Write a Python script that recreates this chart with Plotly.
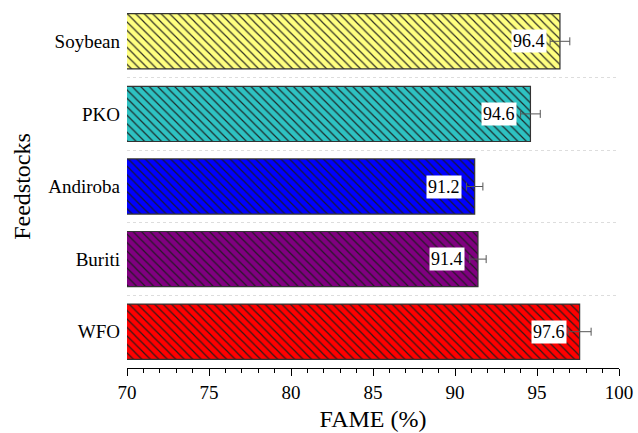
import plotly.graph_objects as go

# FAME yield by feedstock (bottom to top order on the chart)
feedstocks = ["WFO", "Buriti", "Andiroba", "PKO", "Soybean"]
fame = [97.6, 91.4, 91.2, 94.6, 96.4]
fame_err = [0.7, 0.5, 0.5, 0.6, 0.6]
bar_colors = ["#FF0000", "#800080", "#0000FF", "#2EC2C2", "#FFFF80"]

x_ticks = [70, 75, 80, 85, 90, 95, 100]

FONT = "Liberation Serif, Times New Roman, serif"

fig = go.Figure()

# one trace per feedstock so each bar gets its own hatched fill
for name, val, err, col in zip(feedstocks, fame, fame_err, bar_colors):
    fig.add_trace(go.Bar(
        y=[name],
        x=[val],
        base=0,
        orientation="h",
        width=0.76,
        marker=dict(
            color=col,
            line=dict(color="#333333", width=1.2),
            pattern=dict(shape="\\", size=6, solidity=0.2, fgcolor="#1A1A1A",
                         bgcolor=col, fgopacity=0.9, fillmode="replace"),
        ),
        error_x=dict(type="data", array=[err], visible=True,
                     color="#555555", thickness=1, width=4),
        showlegend=False,
    ))

# value labels with white boxes near the bar ends
for name, val in zip(feedstocks, fame):
    fig.add_annotation(
        x=val, y=name, xref="x", yref="y",
        text=f"{val:.1f}", showarrow=False,
        xanchor="right", xshift=-13,
        bgcolor="white", borderpad=1,
        font=dict(family=FONT, size=18, color="black"),
    )

fig.update_layout(
    width=638, height=433,
    barmode="overlay",
    margin=dict(l=127, r=15, t=5, b=65),
    plot_bgcolor="white", paper_bgcolor="white",
    font=dict(family=FONT, color="black"),
    xaxis=dict(
        range=[70, 100],
        tickvals=x_ticks,
        ticks="outside", ticklen=7, tickwidth=1.3, tickcolor="black",
        showline=True, linecolor="black", linewidth=1.3,
        minor=dict(dtick=1, ticks="outside", ticklen=4, tickwidth=1.1, tickcolor="black", showgrid=False),
        showgrid=False, zeroline=False,
        tickfont=dict(family=FONT, size=19),
        title=dict(text="FAME (%)", font=dict(family=FONT, size=24), standoff=8),
    ),
    yaxis=dict(
        categoryorder="array", categoryarray=feedstocks,
        range=[-0.5, 4.5],
        tickson="boundaries",
        ticks="", showline=False,
        showgrid=True, gridcolor="#DDDDDD", griddash="dot", gridwidth=1,
        tickfont=dict(family=FONT, size=19),
        ticklabelstandoff=6,
        title=dict(text="Feedstocks", font=dict(family=FONT, size=24), standoff=10),
    ),
)

fig.write_html("out.html")
